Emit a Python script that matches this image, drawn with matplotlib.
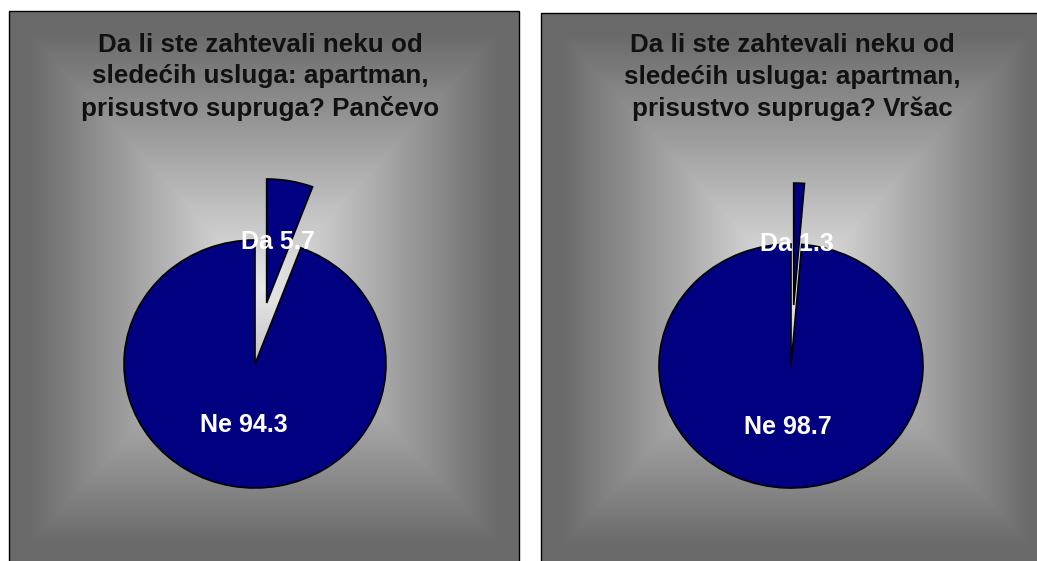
import matplotlib.pyplot as plt
import numpy as np

plt.rcParams['font.family'] = ['Liberation Sans', 'DejaVu Sans']

# survey answers (percent)
categories = ["Da", "Ne"]
pancevo = [5.7, 94.3]
vrsac = [1.3, 98.7]
titles = ["Da li ste zahtevali neku od\nsledećih usluga: apartman,\nprisustvo supruga? Pančevo",
          "Da li ste zahtevali neku od\nsledećih usluga: apartman,\nprisustvo supruga? Vršac"]

W, H = 1037, 561
fig = plt.figure(figsize=(W / 100, H / 100), dpi=100)
fig.patch.set_facecolor('white')

# background layer in pixel coords
bg = fig.add_axes([0, 0, 1, 1])
bg.axis('off')


def gradient_panel(x0, y0, x1, y1):
    w, h = int(x1 - x0), int(y1 - y0)
    xs = (np.arange(w) + 0.5 - w / 2) / (w / 2)
    ys = (np.arange(h) + 0.5 - h / 2) / (h / 2)
    t = np.maximum(np.abs(xs)[None, :], np.abs(ys)[:, None])
    light, dark = 232, 106
    v = light - (light - dark) * np.clip(t / 0.92, 0, 1)
    img = np.dstack([v, v, v]) / 255.0
    bg.imshow(img, extent=(x0, x1, y1, y0), interpolation='bilinear', zorder=1)
    bg.add_patch(plt.Rectangle((x0, y0), x1 - x0, y1 - y0, fill=False,
                               edgecolor='black', linewidth=1.0, zorder=2))


panels = [(9, 11, 519, 566), (541, 13, 1051, 568)]
for p in panels:
    gradient_panel(*p)
bg.set_xlim(0, W)
bg.set_ylim(H, 0)

# pie centres and radii in pixels
pies = [(255, 364, 131, 124), (791, 366, 132, 122)]
title_pos = [(260, 77), (792, 77)]

for data, (cx, cy, rx, ry), title, (tx, ty) in zip([pancevo, vrsac], pies, titles, title_pos):
    span = 1.6
    ax = fig.add_axes([(cx - span * rx) / W, (H - cy - span * ry) / H,
                       2 * span * rx / W, 2 * span * ry / H])
    ax.patch.set_alpha(0)
    labels = [f"{c} {v}" for c, v in zip(categories, data)]
    wedges, texts = ax.pie(data, labels=labels, explode=[0.5, 0], startangle=90,
                           counterclock=False, colors=['#000080', '#000080'],
                           labeldistance=0.5,
                           wedgeprops=dict(edgecolor='black', linewidth=1.2),
                           textprops=dict(color='white', fontsize=18, fontweight='bold'))
    for t in texts:
        t.set_ha('center')
        t.set_va('center')
    ax.set_aspect('auto')
    ax.set_xlim(-span, span)
    ax.set_ylim(-span, span)
    ax.axis('off')
    bg.text(tx, ty, title, ha='center', va='center', fontsize=18.7,
            fontweight='bold', color='#111111', linespacing=1.38, zorder=3)

fig.savefig('out.png', dpi=100)
